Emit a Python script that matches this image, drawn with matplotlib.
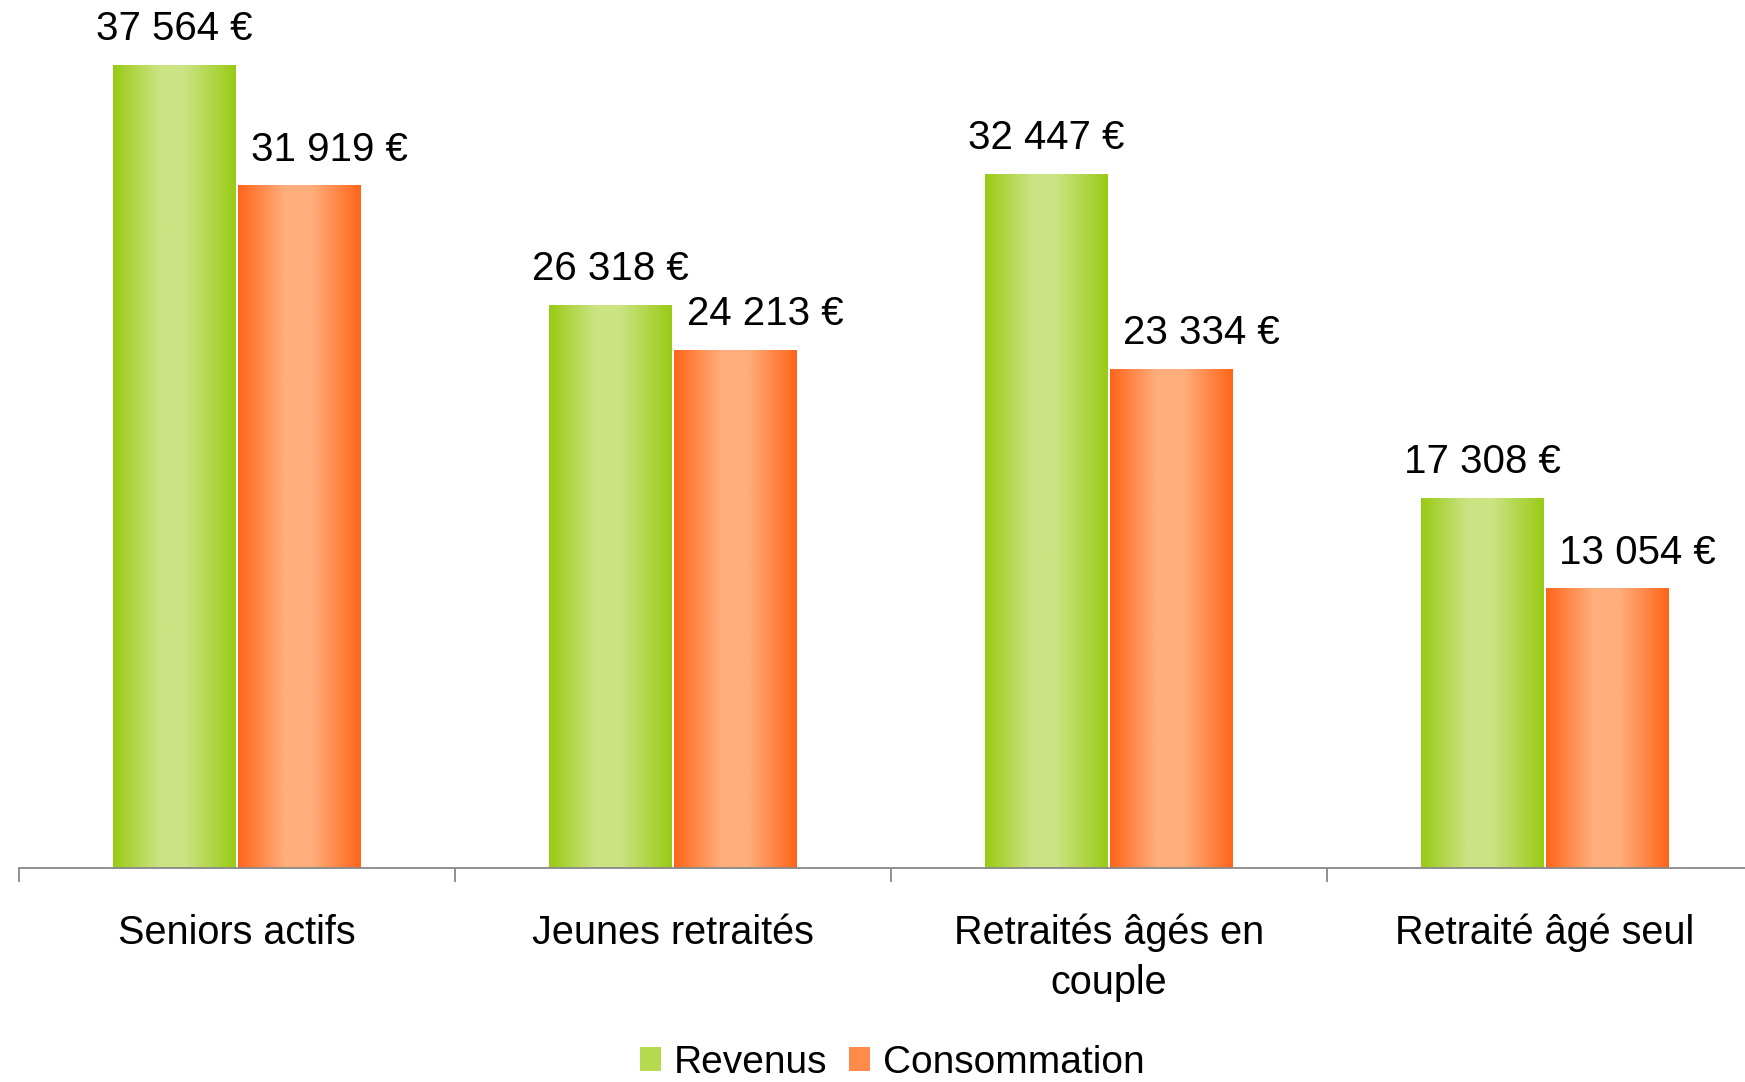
import matplotlib.pyplot as plt
import numpy as np
from matplotlib.colors import LinearSegmentedColormap
from matplotlib.patches import Patch

plt.rcParams['font.family'] = ['Liberation Sans', 'DejaVu Sans']

# Donnees
categories = ['Seniors actifs', 'Jeunes retraités', 'Retraités âgés en\ncouple', 'Retraité âgé seul']
revenus = [37564, 26318, 32447, 17308]
consommation = [31919, 24213, 23334, 13054]
series = ['Revenus', 'Consommation']

# couleurs : bord fonce, centre clair
vert = LinearSegmentedColormap.from_list('vert', [(0, '#99CB14'), (0.38, '#CCE383'), (0.58, '#CCE383'), (1, '#99CB14')])
orange = LinearSegmentedColormap.from_list('orange', [(0, '#FF6519'), (0.38, '#FFAE7C'), (0.6, '#FFAE7C'), (1, '#FF6519')])

fig = plt.figure(figsize=(17.45, 10.82), dpi=100)
# l'axe depasse un peu a droite, comme dans Excel
ax = fig.add_axes([19 / 1745, 214 / 1082, 1744 / 1745, (868 - 13) / 1082])

x = np.arange(len(categories))
w = 0.281
off = 0.143
grad = np.linspace(0, 1, 256).reshape(1, -1)

for vals, cmap, dx, lab_dx in [(revenus, vert, -off, 0), (consommation, orange, off, 30)]:
    bars = ax.bar(x + dx, vals, w, color='none', edgecolor='none')
    for b, v in zip(bars, vals):
        x0 = b.get_x()
        ax.imshow(grad, extent=[x0, x0 + b.get_width(), 0, b.get_height()], aspect='auto', cmap=cmap, zorder=2)
        ax.annotate(f'{v:,} €'.replace(',', ' '), (b.get_x() + b.get_width() / 2, v),
                    xytext=(lab_dx, 36), textcoords='offset pixels', ha='center', va='center', fontsize=29)

ax.set_xlim(-0.5, 3.5)
ax.set_ylim(0, 40000)
for s in ['top', 'right', 'left']:
    ax.spines[s].set_visible(False)
ax.spines['bottom'].set_color('#888888')
ax.spines['bottom'].set_linewidth(1.3)
ax.set_yticks([])
ax.set_xticks(x)
ax.set_xticklabels(categories, fontsize=28.5, linespacing=1.4)
ax.tick_params(axis='x', which='major', length=0, pad=33)
ax.set_xticks([-0.5, 0.5, 1.5, 2.5], minor=True)
ax.tick_params(axis='x', which='minor', length=10, width=1.3, color='#888888')

handles = [Patch(facecolor='#B5D94F', edgecolor='none'), Patch(facecolor='#FF8A4A', edgecolor='none')]
fig.legend(handles, series, loc='center', bbox_to_anchor=(892 / 1745, 1 - 1063 / 1082), ncol=2, frameon=False,
           fontsize=28, handlelength=0.56, handleheight=0.56, handletextpad=0.32, columnspacing=0.55,
           borderpad=0.1)

plt.savefig('out.png')
